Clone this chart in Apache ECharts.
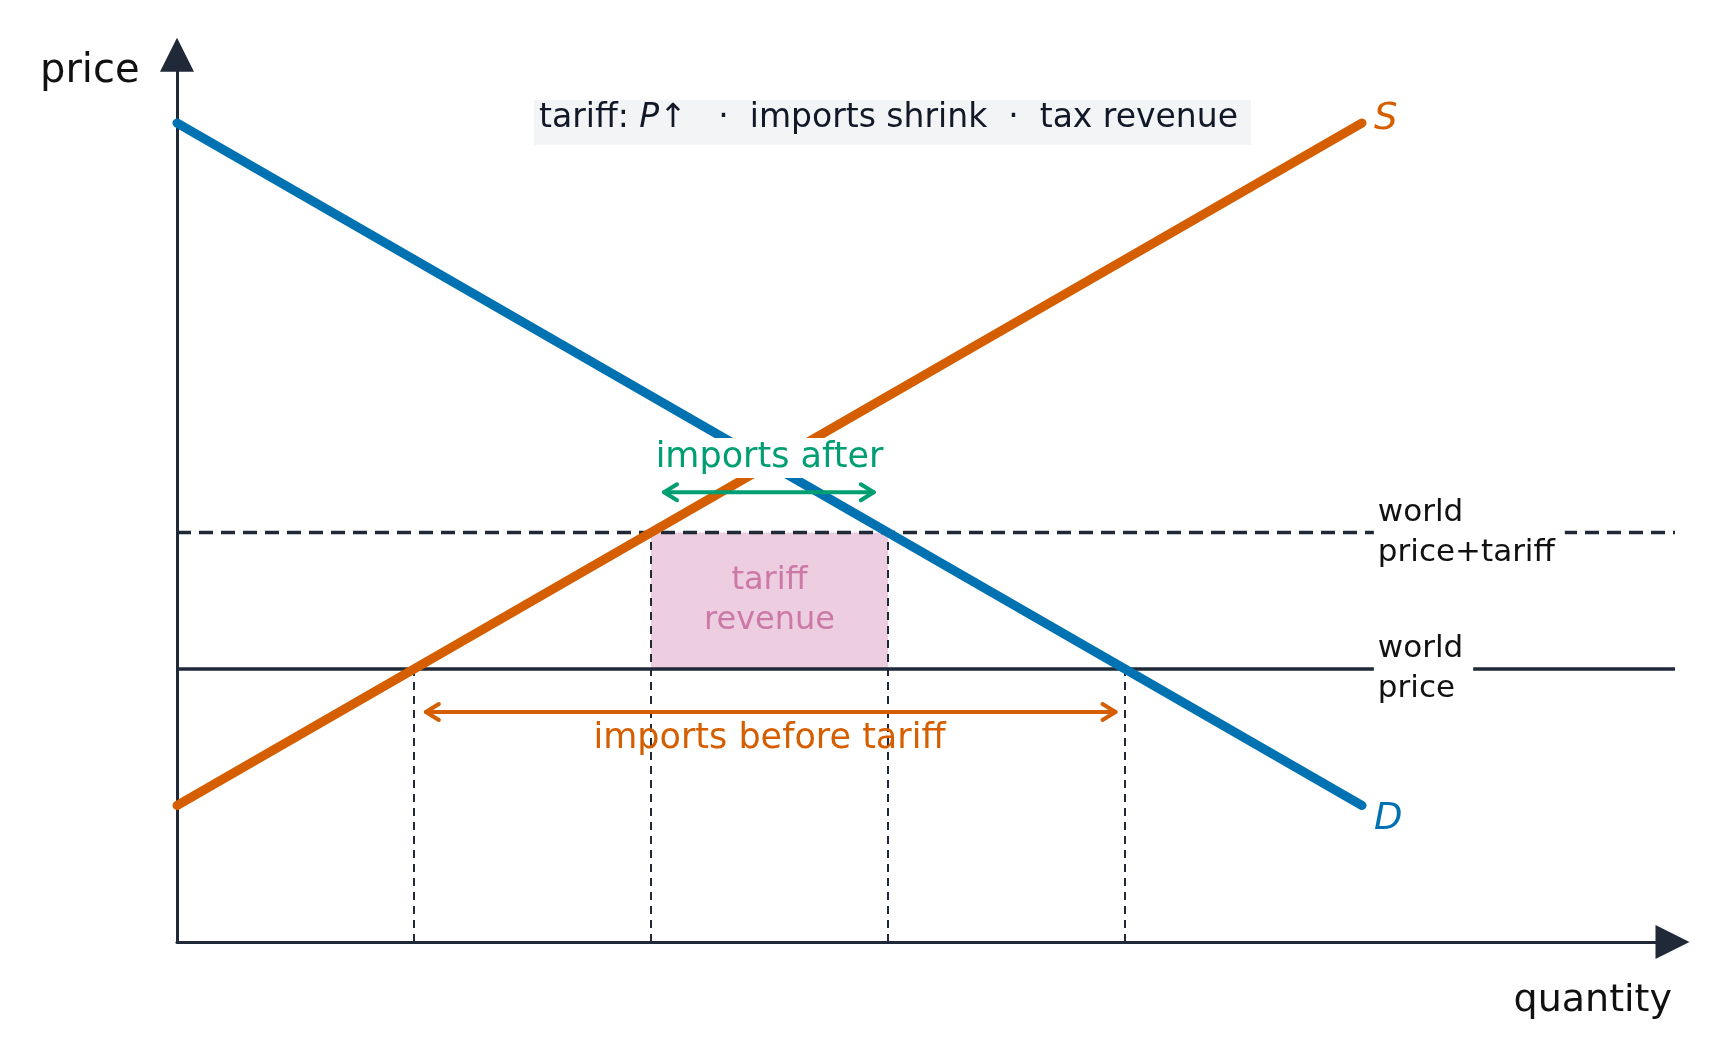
<!DOCTYPE html>
<html><head><meta charset="utf-8">
<script src="https://cdn.jsdelivr.net/npm/echarts@6/dist/echarts.min.js"></script>
<style>html,body{margin:0;padding:0;background:#fff}#c{width:1726px;height:1062px}</style>
</head><body><div id="c"></div>
<script>
const supply = [[0, 2], [10, 12]];
const demand = [[0, 12], [10, 2]];
const worldPrice = 4;
const tariffPrice = 6;
const xEnd = 12.68;
const quantities = [2, 4, 6, 8]; // Qs before, Qs after, Qd after, Qd before
const revenueBox = [[4, 4], [6, 6]];
const importsBefore = [[2.1, 3.37], [7.92, 3.37]];
const importsAfter = [[4.11, 6.59], [5.88, 6.59]];
const labels = [
  {name: 'imports after', pos: [5, 7.09], color: '#009e73', size: 35},
  {name: 'imports before tariff', pos: [5, 2.97], color: '#d55e00', size: 35},
  {name: 'tariff\nrevenue', pos: [5, 5], color: '#cc79a7', size: 32}
];
const priceLabels = [
  {name: 'world\nprice+tariff', pos: [10.1, 6]},
  {name: 'world\nprice', pos: [10.1, 4]}
];

const dark = '#1f2937';
const ff = 'DejaVu Sans';
const chart = echarts.init(document.getElementById('c'));

function arrowSeries(pts, color) {
  return {
    type: 'custom', coordinateSystem: 'cartesian2d', silent: true, z: 5,
    data: [pts[0].concat(pts[1])],
    renderItem: function (params, api) {
      const a = api.coord([api.value(0), api.value(1)]);
      const b = api.coord([api.value(2), api.value(3)]);
      const h = 13, w = 8;
      const st = {stroke: color, lineWidth: 4, fill: null, lineCap: 'round', lineJoin: 'round'};
      return {type: 'group', children: [
        {type: 'line', shape: {x1: a[0], y1: a[1], x2: b[0], y2: b[1]}, style: st},
        {type: 'polyline', shape: {points: [[a[0] + h, a[1] - w], a, [a[0] + h, a[1] + w]]}, style: st},
        {type: 'polyline', shape: {points: [[b[0] - h, b[1] - w], b, [b[0] - h, b[1] + w]]}, style: st}
      ]};
    }
  };
}

const vlines = quantities.map(q => {
  const top = (q === 4 || q === 6) ? tariffPrice : worldPrice;
  return {type: 'line', data: [[q, 0], [q, top]], symbol: 'none', silent: true, z: 2,
    lineStyle: {color: dark, width: 2, type: [8, 6]}};
});

const option = {
  animation: false,
  grid: {left: 177, top: 54.75, width: 12.62 * 118.5, height: 13 * 68.25},
  xAxis: {type: 'value', min: 0, max: 12.62, splitLine: {show: false}, axisTick: {show: false}, axisLabel: {show: false},
    axisLine: {lineStyle: {color: dark, width: 3}, symbol: ['none', 'triangle'], symbolSize: [34, 34]}},
  yAxis: {type: 'value', min: 0, max: 13, splitLine: {show: false}, axisTick: {show: false}, axisLabel: {show: false},
    axisLine: {lineStyle: {color: dark, width: 3}, symbol: ['none', 'triangle'], symbolSize: [34, 34]}},
  series: [
    {type: 'line', data: [[revenueBox[0][0], revenueBox[1][1]], [revenueBox[1][0], revenueBox[1][1]]], symbol: 'none', silent: true,
      lineStyle: {width: 0}, areaStyle: {color: '#edcde0', origin: revenueBox[0][1], opacity: 1}, z: 1},
    {type: 'line', data: [[0, tariffPrice], [xEnd, tariffPrice]], symbol: 'none', silent: true, z: 3,
      lineStyle: {color: dark, width: 3.5, type: [14, 8]}},
    {type: 'line', data: [[0, worldPrice], [xEnd, worldPrice]], symbol: 'none', silent: true, z: 3,
      lineStyle: {color: dark, width: 3.5}},
    ...vlines,
    {type: 'line', data: demand, symbol: 'none', silent: true, z: 4,
      lineStyle: {color: '#0072b2', width: 9, cap: 'round'},
      endLabel: {show: true, formatter: 'D', color: '#0072b2', fontSize: 37, fontStyle: 'italic', fontFamily: ff, offset: [4, 14]}},
    {type: 'line', data: supply, symbol: 'none', silent: true, z: 4,
      lineStyle: {color: '#d55e00', width: 9, cap: 'round'},
      endLabel: {show: true, formatter: 'S', color: '#d55e00', fontSize: 37, fontStyle: 'italic', fontFamily: ff, offset: [4, -4]}},
    arrowSeries(importsBefore, '#d55e00'),
    arrowSeries(importsAfter, '#009e73'),
    {type: 'scatter', symbolSize: 0, silent: true, z: 6, itemStyle: {opacity: 1},
      data: labels.map(l => ({value: l.pos, label: {show: true, position: 'inside', formatter: l.name, color: l.color,
        fontSize: l.size, fontFamily: ff, lineHeight: 40,
        backgroundColor: l.name === 'imports after' ? '#fff' : 'transparent', padding: [0, 6]}}))},
    {type: 'scatter', symbolSize: 0, silent: true, z: 6, itemStyle: {opacity: 1},
      data: priceLabels.map(l => ({value: l.pos, label: {formatter: l.name}})),
      label: {show: true, position: 'right', distance: 0, color: '#111', fontSize: 31, fontFamily: ff, lineHeight: 40,
        backgroundColor: '#fff', padding: [0, 10, 0, 4]}}
  ],
  graphic: [
    {type: 'text', left: 40, top: 52, style: {text: 'price', fontSize: 40, fontFamily: ff, fill: '#111'}},
    {type: 'text', right: 54, top: 982, style: {text: 'quantity', fontSize: 38, fontFamily: ff, fill: '#111'}},
    {type: 'rect', shape: {x: 534, y: 100, width: 717, height: 45}, style: {fill: '#f3f4f6'}},
    {type: 'text', left: 539, top: 102, style: {
      text: '{n|tariff: }{i|P}{n|↑   ·  imports shrink  ·  tax revenue}',
      rich: {n: {fontSize: 33, fontFamily: ff, fill: '#111827'}, i: {fontSize: 33, fontFamily: ff, fontStyle: 'italic', fill: '#111827'}}}}
  ]
};
chart.setOption(option);
</script></body></html>
